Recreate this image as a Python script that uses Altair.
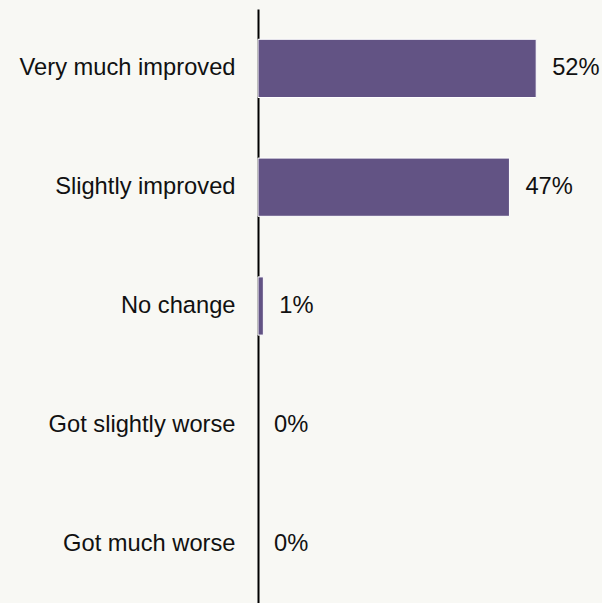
import altair as alt
import pandas as pd

categories = ["Very much improved", "Slightly improved", "No change", "Got slightly worse", "Got much worse"]
values = [52, 47, 1, 0, 0]
labels = ["52%", "47%", "1%", "0%", "0%"]

df = pd.DataFrame({"cat": categories, "val": values, "lab": labels})

y = alt.Y("cat:N", sort=categories, title=None,
          scale=alt.Scale(paddingInner=0.51, paddingOuter=0.255),
          axis=alt.Axis(domain=True, domainColor="black", domainWidth=2, ticks=False,
                        labelFontSize=23.7, labelFont="Liberation Sans", labelColor="#111111",
                        labelPadding=23, labelLimit=400, grid=False))
x = alt.X("val:Q", scale=alt.Scale(domain=[0, 60]), axis=None)

bars = alt.Chart(df).transform_filter("datum.val > 0").mark_bar(
    color="#625384", stroke="white", strokeWidth=1).encode(x=x, y=y)
text = alt.Chart(df).mark_text(align="left", baseline="middle", dx=16, fontSize=23.7,
                                font="Liberation Sans", color="#111111").encode(
    x=x, y=alt.Y("cat:N", sort=categories), text="lab:N")

chart = (bars + text).properties(
    width=321, height=594,
    autosize=alt.AutoSizeParams(type="none"),
    padding={"left": 258, "top": 9, "right": 23, "bottom": 0},
    background="#f8f8f4",
).configure_view(stroke=None)

chart.save("out.html", embed_options={"renderer": "svg", "actions": False})
